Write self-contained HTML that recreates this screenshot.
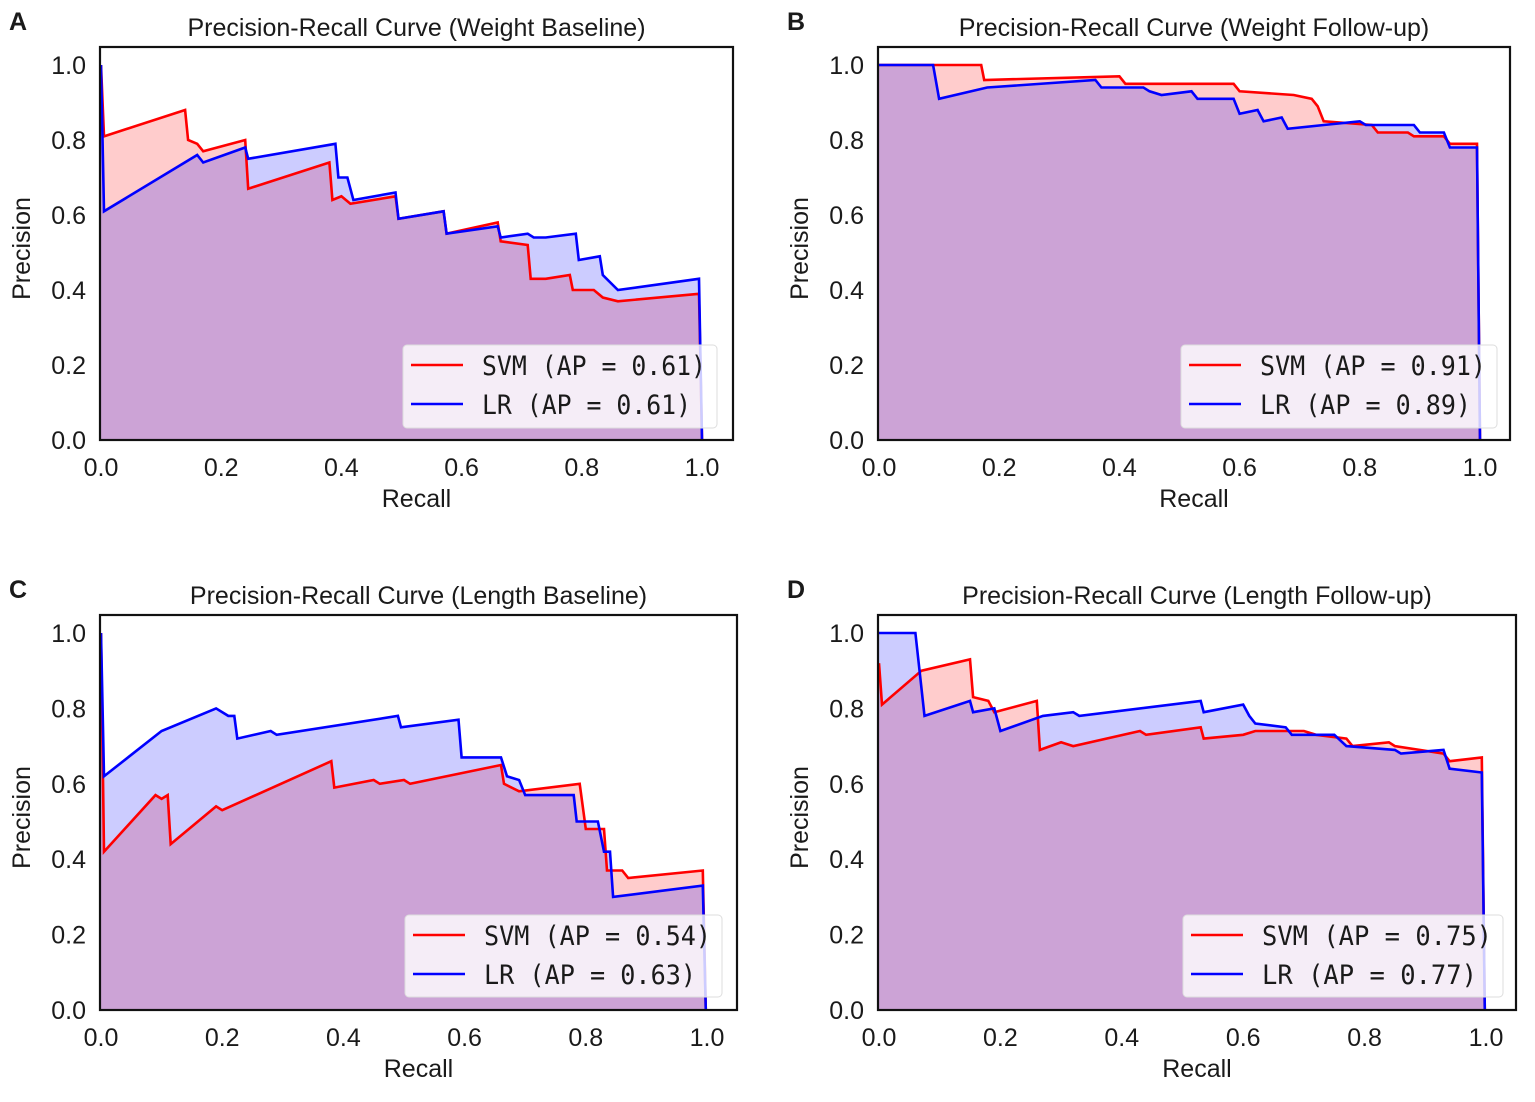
<!DOCTYPE html>
<html><head><meta charset="utf-8"><style>
body{margin:0;background:#fff;}
svg text{font-family:"Liberation Sans",sans-serif;fill:#1a1a1a;}
</style></head><body>
<svg id="s" width="1535" height="1097" xmlns="http://www.w3.org/2000/svg"></svg>
<script>
const S=document.getElementById('s');let h='';
const P=[
{L:'A',t:'Precision-Recall Curve (Weight Baseline)',bl:100,br:733,bt:47,x0:101,x1:702,y0:440,y1:65,ap:['0.61','0.61'],lg:[403,345,717,428],
svm:[[0,1],[0.005,0.81],[0.14,0.88],[0.145,0.8],[0.16,0.79],[0.17,0.77],[0.24,0.8],[0.245,0.67],[0.38,0.74],[0.385,0.64],[0.4,0.65],[0.415,0.63],[0.49,0.65],[0.495,0.59],[0.57,0.61],[0.575,0.55],[0.66,0.58],[0.665,0.53],[0.71,0.52],[0.715,0.43],[0.74,0.43],[0.78,0.44],[0.785,0.4],[0.82,0.4],[0.835,0.38],[0.86,0.37],[0.995,0.39],[1.0,0]],
lr:[[0,1],[0.005,0.61],[0.16,0.76],[0.17,0.74],[0.24,0.78],[0.245,0.75],[0.39,0.79],[0.395,0.7],[0.41,0.7],[0.42,0.64],[0.49,0.66],[0.495,0.59],[0.57,0.61],[0.575,0.55],[0.66,0.57],[0.665,0.54],[0.71,0.55],[0.72,0.54],[0.74,0.54],[0.79,0.55],[0.795,0.48],[0.83,0.49],[0.835,0.44],[0.86,0.4],[0.995,0.43],[1.0,0]]},
{L:'B',t:'Precision-Recall Curve (Weight Follow-up)',bl:878,br:1510,bt:47,x0:879,x1:1480,y0:440,y1:65,ap:['0.91','0.89'],lg:[1181,345,1497,428],
svm:[[0,1],[0.17,1],[0.175,0.96],[0.4,0.97],[0.41,0.95],[0.59,0.95],[0.6,0.93],[0.69,0.92],[0.72,0.91],[0.73,0.89],[0.74,0.85],[0.82,0.84],[0.83,0.82],[0.88,0.82],[0.89,0.81],[0.94,0.81],[0.95,0.79],[0.995,0.79],[1.0,0]],
lr:[[0,1],[0.09,1],[0.1,0.91],[0.18,0.94],[0.36,0.96],[0.37,0.94],[0.44,0.94],[0.45,0.93],[0.47,0.92],[0.52,0.93],[0.53,0.91],[0.59,0.91],[0.6,0.87],[0.63,0.88],[0.64,0.85],[0.67,0.86],[0.68,0.83],[0.74,0.84],[0.8,0.85],[0.81,0.84],[0.89,0.84],[0.9,0.82],[0.94,0.82],[0.95,0.78],[0.995,0.78],[1.0,0]]},
{L:'C',t:'Precision-Recall Curve (Length Baseline)',bl:100,br:737,bt:615,x0:101,x1:707,y0:1010,y1:633,ap:['0.54','0.63'],lg:[405,915,722,997],
svm:[[0,1],[0.005,0.42],[0.09,0.57],[0.1,0.56],[0.11,0.57],[0.115,0.44],[0.19,0.54],[0.2,0.53],[0.38,0.66],[0.385,0.59],[0.45,0.61],[0.46,0.6],[0.5,0.61],[0.51,0.6],[0.66,0.65],[0.665,0.6],[0.69,0.58],[0.79,0.6],[0.8,0.48],[0.83,0.48],[0.835,0.37],[0.86,0.37],[0.87,0.35],[0.993,0.37],[0.998,0]],
lr:[[0,1],[0.005,0.62],[0.1,0.74],[0.19,0.8],[0.21,0.78],[0.22,0.78],[0.225,0.72],[0.28,0.74],[0.29,0.73],[0.49,0.78],[0.495,0.75],[0.59,0.77],[0.595,0.67],[0.66,0.67],[0.67,0.62],[0.69,0.61],[0.7,0.57],[0.78,0.57],[0.785,0.5],[0.82,0.5],[0.83,0.42],[0.84,0.42],[0.845,0.3],[0.993,0.33],[0.998,0]]},
{L:'D',t:'Precision-Recall Curve (Length Follow-up)',bl:878,br:1516,bt:615,x0:879,x1:1486,y0:1010,y1:633,ap:['0.75','0.77'],lg:[1183,915,1503,997],
svm:[[0,0.92],[0.005,0.81],[0.07,0.9],[0.15,0.93],[0.155,0.83],[0.18,0.82],[0.19,0.79],[0.26,0.82],[0.265,0.69],[0.3,0.71],[0.32,0.7],[0.43,0.74],[0.44,0.73],[0.53,0.75],[0.535,0.72],[0.6,0.73],[0.62,0.74],[0.7,0.74],[0.72,0.73],[0.77,0.72],[0.78,0.7],[0.84,0.71],[0.85,0.7],[0.93,0.68],[0.94,0.66],[0.993,0.67],[0.998,0]],
lr:[[0,1],[0.06,1],[0.075,0.78],[0.15,0.82],[0.155,0.79],[0.19,0.8],[0.2,0.74],[0.27,0.78],[0.32,0.79],[0.33,0.78],[0.53,0.82],[0.535,0.79],[0.6,0.81],[0.61,0.78],[0.62,0.76],[0.67,0.75],[0.68,0.73],[0.75,0.73],[0.77,0.7],[0.85,0.69],[0.86,0.68],[0.93,0.69],[0.94,0.64],[0.993,0.63],[0.998,0]]}
];
for(const p of P){
 const X=v=>p.x0+v*(p.x1-p.x0),Y=v=>p.y0+v*(p.y1-p.y0);
 const pts=a=>a.map(q=>X(q[0]).toFixed(1)+','+Y(q[1]).toFixed(1)).join(' ');
 for(const [d,c] of [[p.svm,'rgba(255,0,0,0.2)'],[p.lr,'rgba(0,0,255,0.2)']]){
  h+=`<polygon points="${X(0)},${p.y0} ${pts(d)} ${X(d[d.length-1][0])},${p.y0}" fill="${c}"/>`;
 }
 h+=`<polyline points="${pts(p.svm)}" fill="none" stroke="#f00" stroke-width="2.6"/>`;
 h+=`<polyline points="${pts(p.lr)}" fill="none" stroke="#00f" stroke-width="2.6"/>`;
 h+=`<rect x="${p.bl}" y="${p.bt}" width="${p.br-p.bl}" height="${p.y0-p.bt}" fill="none" stroke="#111" stroke-width="2.2"/>`;
 for(let i=0;i<=5;i++){const v=i/5;
  h+=`<text x="${X(v)}" y="${p.y0+36}" font-size="25" text-anchor="middle">${v.toFixed(1)}</text>`;
  h+=`<text x="${p.bl-14}" y="${Y(v)+9}" font-size="25" text-anchor="end">${v.toFixed(1)}</text>`;}
 const cx=(p.bl+p.br)/2;
 h+=`<text x="${cx}" y="${p.bt-11}" font-size="25" text-anchor="middle">${p.t}</text>`;
 h+=`<text x="${cx}" y="${p.y0+67}" font-size="25" text-anchor="middle">Recall</text>`;
 const ym=(p.bt+p.y0)/2+5;
 h+=`<text transform="translate(${p.bl-70},${ym}) rotate(-90)" font-size="25" text-anchor="middle">Precision</text>`;
 h+=`<text x="${p.bl-91}" y="${p.bt-17}" font-size="25" font-weight="bold">${p.L}</text>`;
 const [a,b,c,d]=p.lg;
 h+=`<rect x="${a}" y="${b}" width="${c-a}" height="${d-b}" rx="4" fill="rgba(255,255,255,0.8)" stroke="#ddd"/>`;
 const r1=b+20,r2=b+59;
 h+=`<line x1="${a+8}" x2="${a+60}" y1="${r1}" y2="${r1}" stroke="#f00" stroke-width="2.6"/>`;
 h+=`<line x1="${a+8}" x2="${a+60}" y1="${r2}" y2="${r2}" stroke="#00f" stroke-width="2.6"/>`;
 h+=`<text x="${a+79}" y="${r1+10}" font-size="27" style="font-family:'DejaVu Sans Mono','Liberation Mono',monospace" textLength="${c-a-90}" lengthAdjust="spacingAndGlyphs">SVM (AP = ${p.ap[0]})</text>`;
 h+=`<text x="${a+79}" y="${r2+10}" font-size="27" style="font-family:'DejaVu Sans Mono','Liberation Mono',monospace" textLength="${c-a-105}" lengthAdjust="spacingAndGlyphs">LR (AP = ${p.ap[1]})</text>`;
}
S.innerHTML=h;
</script>
</body></html>
